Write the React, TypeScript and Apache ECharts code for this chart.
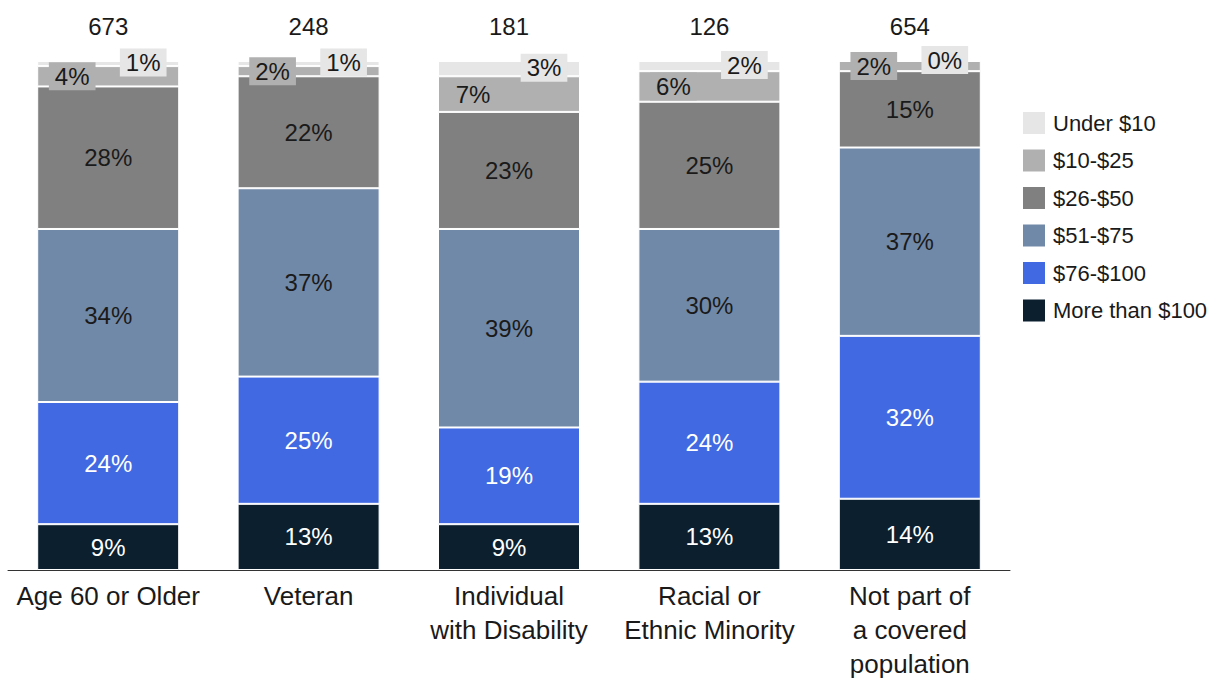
import React, { useEffect, useRef } from "react";
import * as echarts from "echarts";

const categories = [
  "Age 60 or Older",
  "Veteran",
  "Individual\nwith Disability",
  "Racial or\nEthnic Minority",
  "Not part of\na covered\npopulation",
];
const totals = [673, 248, 181, 126, 654];

const seriesNames = ["More than $100", "$76-$100", "$51-$75", "$26-$50", "$10-$25", "Under $10"];
const moreThan100 = [9, 13, 9, 13, 14];
const from76to100 = [24, 25, 19, 24, 32];
const from51to75 = [34, 37, 39, 30, 37];
const from26to50 = [28, 22, 23, 25, 15];
const from10to25 = [4, 2, 7, 6, 2];
const under10 = [1, 1, 3, 2, 0];

const colors = ["#0b1f2f", "#4169e1", "#7189a8", "#808080", "#b0b0b0", "#e6e6e6"];
const labelColors = ["#ffffff", "#ffffff", "#1a1a1a", "#1a1a1a", "#1a1a1a", "#1a1a1a"];

const FONT = "'Liberation Sans', Arial, sans-serif";

export default function App() {
  const ref = useRef<HTMLDivElement>(null);
  useEffect(() => {
    if (!ref.current) return;
    const chart = echarts.init(ref.current, null, { renderer: "svg" });
    const data = [moreThan100, from76to100, from51to75, from26to50, from10to25, under10];
    const series: any[] = data.map((d, i) => {
      const label: any = {
        show: true,
        position: "inside",
        formatter: "{c}%",
        color: labelColors[i],
        fontSize: 24,
        fontFamily: FONT,
      };
      if (i === 4) {
        label.offset = [-36, 0];
        label.backgroundColor = colors[4];
        label.padding = [3, 6, 1, 6];
      }
      if (i === 5) {
        label.offset = [35, -1];
        label.backgroundColor = colors[5];
        label.padding = [3, 6, 1, 6];
      }
      return {
        name: seriesNames[i],
        type: "bar",
        stack: "a",
        barWidth: 142,
        data: d,
        itemStyle: { color: colors[i], borderColor: "#ffffff", borderWidth: 1 },
        label,
      };
    });
    series.push({
      name: "total",
      type: "bar",
      stack: "a",
      barWidth: 142,
      data: totals.map(() => 0),
      itemStyle: { color: "transparent" },
      label: {
        show: true,
        position: "top",
        distance: 23,
        formatter: (p: any) => String(totals[p.dataIndex]),
        color: "#1a1a1a",
        fontSize: 24,
        fontFamily: FONT,
      },
    });
    chart.setOption({
      animation: false,
      textStyle: { fontFamily: FONT },
      grid: { left: 8, right: 213, top: 61, bottom: 108, containLabel: false },
      legend: {
        data: [...seriesNames].reverse(),
        orient: "vertical",
        left: 1016,
        top: 105,
        icon: "rect",
        itemWidth: 24,
        itemHeight: 24,
        itemGap: 11.5,
        textStyle: {
          fontSize: 22,
          lineHeight: 24,
          color: "#1a1a1a",
          fontFamily: FONT,
          padding: [0, 0, 0, 2],
        },
        selectedMode: false,
      },
      xAxis: {
        type: "category",
        data: categories,
        axisLine: { lineStyle: { color: "#333333", width: 1 } },
        axisTick: { show: false },
        axisLabel: {
          fontSize: 26,
          color: "#1a1a1a",
          lineHeight: 34,
          margin: 9,
          interval: 0,
          fontFamily: FONT,
        },
      },
      yAxis: { type: "value", min: 0, max: 100, show: false },
      series,
    });
    return () => chart.dispose();
  }, []);
  return (
    <div
      ref={ref}
      style={{ position: "absolute", left: 0, top: 0, width: 1223, height: 681, background: "#fff" }}
    />
  );
}
